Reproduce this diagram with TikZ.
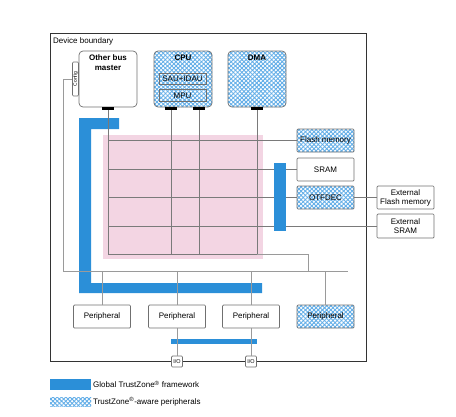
\documentclass[tikz,border=0pt]{standalone}
\usepackage{fontspec}
\setmainfont{Liberation Sans}
\usetikzlibrary{patterns.meta}
\definecolor{tzblue}{HTML}{2B8FD8}
\definecolor{dotblue}{HTML}{62AEE8}
\definecolor{mtxpink}{HTML}{F3D5E3}
\definecolor{linegray}{HTML}{9A9A9A}
\definecolor{gridgray}{HTML}{7A7A7A}
\definecolor{boxgray}{HTML}{707070}

\begin{document}
\begin{tikzpicture}[x = 1pt, y = -1pt, font = \fontsize{8}{9}\selectfont]
	\tikzstyle{boxStyle} = [draw = boxgray, fill = white, inner sep = 0pt, align = center, rounded corners = 1pt, line width = 0.7pt]
	\tikzstyle{awareStyle} = [fill = none, preaction = {fill = white}, preaction = {pattern = {Lines[angle = 45, distance = 3pt, line width = 0.9pt]}, pattern color = dotblue}, preaction = {pattern = {Lines[angle = -45, distance = 3pt, line width = 0.9pt]}, pattern color = dotblue}]
	\tikzstyle{unitStyle} = [minimum width = 58pt, minimum height = 56pt, rounded corners = 4pt]
	\tikzstyle{smallStyle} = [minimum width = 57pt, minimum height = 23pt]
	\tikzstyle{portStyle} = [fill = black, minimum width = 12pt, minimum height = 3pt, inner sep = 0pt]
	\tikzstyle{gridStyle} = [draw = gridgray, line width = 0.8pt]
	\tikzstyle{busStyle} = [draw = linegray, line width = 0.8pt]
	\tikzstyle{titleStyle} = [font = \fontsize{8}{10}\selectfont\bfseries, align = center]
	\useasboundingbox (0, 0) rectangle (456, 416);
	\node[draw = black!80, line width = 0.9pt, minimum width = 316pt, minimum height = 328pt] (dev) at (208, 197) {};
	\node[anchor = west, inner sep = 0pt] (devT) at (53, 41) {Device boundary};
	\node[fill = mtxpink, minimum width = 160pt, minimum height = 124pt] (mtx) at (183, 197) {};
	\fill[tzblue] (79, 118) -- (119, 118) -- (119, 129) -- (91, 129) -- (91, 283) -- (262, 283) -- (262, 293) -- (79, 293) -- cycle;
	\fill[tzblue] (171, 339) rectangle (257, 344);
	\node[boxStyle, unitStyle] (obm) at (108, 79) {};
	\node[titleStyle] (obmT) at (108, 63) {Other bus\\master};
	\node[boxStyle, minimum width = 6pt, minimum height = 34pt] (cfg) at (75.5, 79) {};
	\node[rotate = 90, font = \fontsize{5}{5}\selectfont, inner sep = 0pt] (cfgT) at (cfg) {Config};
	\node[boxStyle, awareStyle, unitStyle] (cpu) at (183, 79) {};
	\node[titleStyle] (cpuT) at (183, 58) {CPU};
	\node[boxStyle, awareStyle, rounded corners = 0pt, minimum width = 47pt, minimum height = 11pt] (sau) at (182.5, 78.5) {SAU+IDAU};
	\node[boxStyle, awareStyle, rounded corners = 0pt, minimum width = 47pt, minimum height = 12pt] (mpu) at (182.5, 95.5) {MPU};
	\node[boxStyle, awareStyle, unitStyle] (dma) at (257, 79) {};
	\node[titleStyle] (dmaT) at (257, 58) {DMA};
	\node[portStyle] (obmP) at (108, 108.5) {};
	\node[portStyle] (cpuP1) at (171, 108.5) {};
	\node[portStyle] (cpuP2) at (199, 108.5) {};
	\node[portStyle] (dmaP) at (257, 108.5) {};
	\node[boxStyle, awareStyle, smallStyle] (fl) at (325.5, 140.5) {Flash memory};
	\node[boxStyle, smallStyle] (sr) at (325.5, 169.5) {SRAM};
	\node[boxStyle, awareStyle, smallStyle] (otf) at (325.5, 197.5) {OTFDEC};
	\node[boxStyle, smallStyle] (xfl) at (405.5, 197.5) {External\\Flash memory};
	\node[boxStyle, smallStyle, minimum height = 24pt] (xsr) at (405.5, 226) {External\\SRAM};
	\node[boxStyle, smallStyle] (p1) at (102, 316.5) {Peripheral};
	\node[boxStyle, smallStyle] (p2) at (177, 316.5) {Peripheral};
	\node[boxStyle, smallStyle] (p3) at (251, 316.5) {Peripheral};
	\node[boxStyle, awareStyle, smallStyle] (p4) at (325.5, 316.5) {Peripheral};
	\node[boxStyle, minimum size = 11pt, font = \fontsize{5.5}{6}\selectfont] (io1) at (177, 361.5) {I/O};
	\node[boxStyle, minimum size = 11pt, font = \fontsize{5.5}{6}\selectfont] (io2) at (251, 361.5) {I/O};
	\coordinate (r1) at (108, 140.5);
	\coordinate (r2) at (108, 169.5);
	\coordinate (r3) at (108, 197.5);
	\coordinate (r4) at (108, 226);
	\coordinate (r5) at (108, 254);
	\coordinate (brg) at (308, 254);
	\coordinate (pbL) at (63, 271);
	\coordinate (pbR) at (348, 271);
	\draw[gridStyle] (obmP) -- (obmP |- r5);
	\draw[gridStyle] (cpuP1) -- (cpuP1 |- r5);
	\draw[gridStyle] (cpuP2) -- (cpuP2 |- r5);
	\draw[gridStyle] (dmaP) -- (dmaP |- r5);
	\draw[gridStyle] (r1) -- (fl);
	\draw[gridStyle] (r2) -- (sr);
	\draw[gridStyle] (r3) -- (otf);
	\draw[gridStyle] (otf) -- (xfl);
	\draw[gridStyle] (r4) -- (xsr);
	\draw[gridStyle] (r5) -- (dmaP |- r5);
	\draw[busStyle] (dmaP |- r5) -- (brg) -- (brg |- pbL);
	\draw[busStyle] (cfg) -| (pbL) -- (pbR);
	\draw[busStyle] (p1 |- pbL) -- (p1);
	\draw[busStyle] (p2 |- pbL) -- (p2);
	\draw[busStyle] (p3 |- pbL) -- (p3);
	\draw[busStyle] (p4 |- pbL) -- (p4);
	\draw[busStyle] (p2) -- (io1);
	\draw[busStyle] (p3) -- (io2);
	\fill[tzblue] (274, 163) rectangle (286, 231);
	\node[fill = tzblue, minimum width = 41pt, minimum height = 11pt, inner sep = 0pt] (keyA) at (70.5, 384.5) {};
	\node[anchor = west, inner sep = 0pt] (keyAT) at (93, 384.5) {Global TrustZone\textsuperscript{\textregistered} framework};
	\node[awareStyle, minimum width = 41pt, minimum height = 9pt, inner sep = 0pt] (keyB) at (70.5, 401.5) {};
	\node[anchor = west, inner sep = 0pt] (keyBT) at (93, 401.5) {TrustZone\textsuperscript{\textregistered}-aware peripherals};
\end{tikzpicture}
\end{document}
